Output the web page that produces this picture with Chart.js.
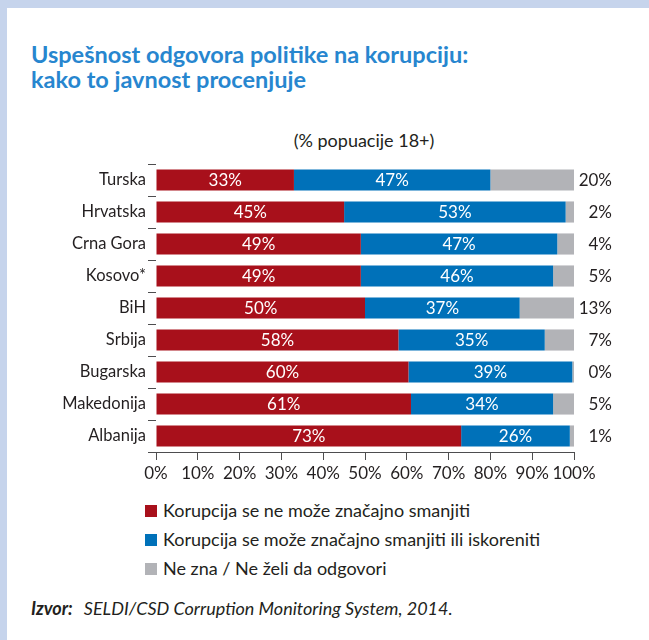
<!DOCTYPE html>
<html>
<head>
<meta charset="utf-8">
<script src="https://cdn.jsdelivr.net/npm/chart.js@4"></script>
<style>
    html, body {
        margin: 0;
        padding: 0;
        background: #fff;
    }
    #page {
        position: relative;
        width: 649px;
        height: 640px;
        overflow: hidden;
        font-family: Lato, "Open Sans", sans-serif;
        color: #231f20;
    }
    .frame-top {
        position: absolute; left: 0; top: 0; width: 649px; height: 8px; background: #c6d4ec;
    }
    .frame-left {
        position: absolute; left: 0; top: 0; width: 7px; height: 640px; background: #c6d4ec;
    }
    #title {
        position: absolute; left: 31px; top: 42px;
        font-size: 23.5px; font-weight: bold; line-height: 25px;
        color: #2786cf;
    }
    #subtitle {
        position: absolute; left: 0; top: 129px; width: 728px; text-align: center;
        font-size: 18px;
    }
    #chart-wrap {
        position: absolute; left: 0; top: 0;
    }
    #legend {
        position: absolute; left: 145px; top: 499px;
        font-size: 18px;
    }
    .legend-item {
        height: 29px; line-height: 22px; white-space: nowrap;
    }
    .legend-box {
        display: inline-block; width: 12px; height: 12px; margin-right: 6px; vertical-align: 0px;
    }
    #source {
        position: absolute; left: 31px; top: 597px;
        font-size: 18px; font-style: italic;
    }
    #source b { margin-right: 11px; }
</style>
</head>
<body>
<div id="page">
    <div class="frame-top"></div>
    <div class="frame-left"></div>
    <div id="title">Uspešnost odgovora politike na korupciju:<br>kako to javnost procenjuje</div>
    <div id="subtitle">(% popuacije 18+)</div>
    <div id="chart-wrap"><canvas id="chart" width="649" height="490"></canvas></div>
    <div id="legend"></div>
    <div id="source"><b>Izvor:</b>SELDI/CSD Corruption Monitoring System, 2014.</div>
</div>

<script>
// Data
const countries = ['Turska', 'Hrvatska', 'Crna Gora', 'Kosovo*', 'BiH', 'Srbija', 'Bugarska', 'Makedonija', 'Albanija'];
const cannotReduce = [33, 45, 49, 49, 50, 58, 60.4, 61, 73];
const canReduce = [47, 53, 47, 46, 37, 35, 39.2, 34, 26];
const dontKnow = [20, 2, 4, 5, 13, 7, 0.4, 5, 1];
const seriesNames = [
    'Korupcija se ne može značajno smanjiti',
    'Korupcija se može značajno smanjiti ili iskoreniti',
    'Ne zna / Ne želi da odgovori'
];
const seriesColors = ['#a8101b', '#0071b9', '#b2b3b7'];
const xTicks = [0, 10, 20, 30, 40, 50, 60, 70, 80, 90, 100];

const FONT = 'Lato, "Open Sans", sans-serif';

// Labels inside bars (white) and grey values at the right
const valueLabels = {
    id: 'valueLabels',
    afterDatasetsDraw(chart) {
        const ctx = chart.ctx;
        ctx.save();
        ctx.font = '17px ' + FONT;
        ctx.textBaseline = 'middle';
        chart.data.datasets.forEach((ds, i) => {
            const meta = chart.getDatasetMeta(i);
            meta.data.forEach((bar, j) => {
                const text = Math.round(ds.data[j]) + '%';
                if (i < 2) {
                    ctx.fillStyle = '#ffffff';
                    ctx.textAlign = 'center';
                    ctx.fillText(text, (bar.x + bar.base) / 2, bar.y + 1);
                } else {
                    ctx.fillStyle = '#231f20';
                    ctx.textAlign = 'right';
                    ctx.fillText(text, 612, bar.y + 1);
                }
            });
        });
        ctx.restore();
    }
};

new Chart(document.getElementById('chart'), {
    type: 'bar',
    data: {
        labels: countries,
        datasets: [cannotReduce, canReduce, dontKnow].map((d, i) => ({
            label: seriesNames[i],
            data: d,
            backgroundColor: seriesColors[i],
            borderWidth: 0,
            categoryPercentage: 1,
            barPercentage: 0.66
        }))
    },
    options: {
        indexAxis: 'y',
        responsive: false,
        animation: false,
        events: [],
        layout: {
            padding: { left: 0, right: 75, top: 164, bottom: 8 }
        },
        plugins: {
            legend: { display: false },
            tooltip: { enabled: false }
        },
        scales: {
            x: {
                stacked: true,
                min: 0,
                max: 100,
                afterBuildTicks: scale => {
                    scale.ticks = xTicks.map(v => ({ value: v }));
                },
                afterFit: scale => { scale.height = 30; },
                border: { display: true, color: '#4d4d4f', width: 1 },
                grid: {
                    drawOnChartArea: false,
                    drawTicks: true,
                    tickLength: 8,
                    color: '#4d4d4f'
                },
                ticks: {
                    padding: 3,
                    autoSkip: false,
                    maxRotation: 0,
                    minRotation: 0,
                    color: '#231f20',
                    font: { family: FONT, size: 17 },
                    callback: v => v + '%'
                }
            },
            y: {
                stacked: true,
                afterFit: scale => { scale.width = 156; },
                border: { display: false },
                grid: {
                    offset: true,
                    drawOnChartArea: false,
                    drawTicks: true,
                    tickLength: 8,
                    color: '#4d4d4f'
                },
                ticks: {
                    padding: 2,
                    color: '#231f20',
                    font: { family: FONT, size: 16.5 }
                }
            }
        }
    },
    plugins: [valueLabels]
});

// Legend
document.getElementById('legend').innerHTML = seriesNames.map((name, i) => `
    <div class="legend-item"><span class="legend-box" style="background: ${seriesColors[i]}"></span>${name}</div>
`).join('');
</script>
</body>
</html>
